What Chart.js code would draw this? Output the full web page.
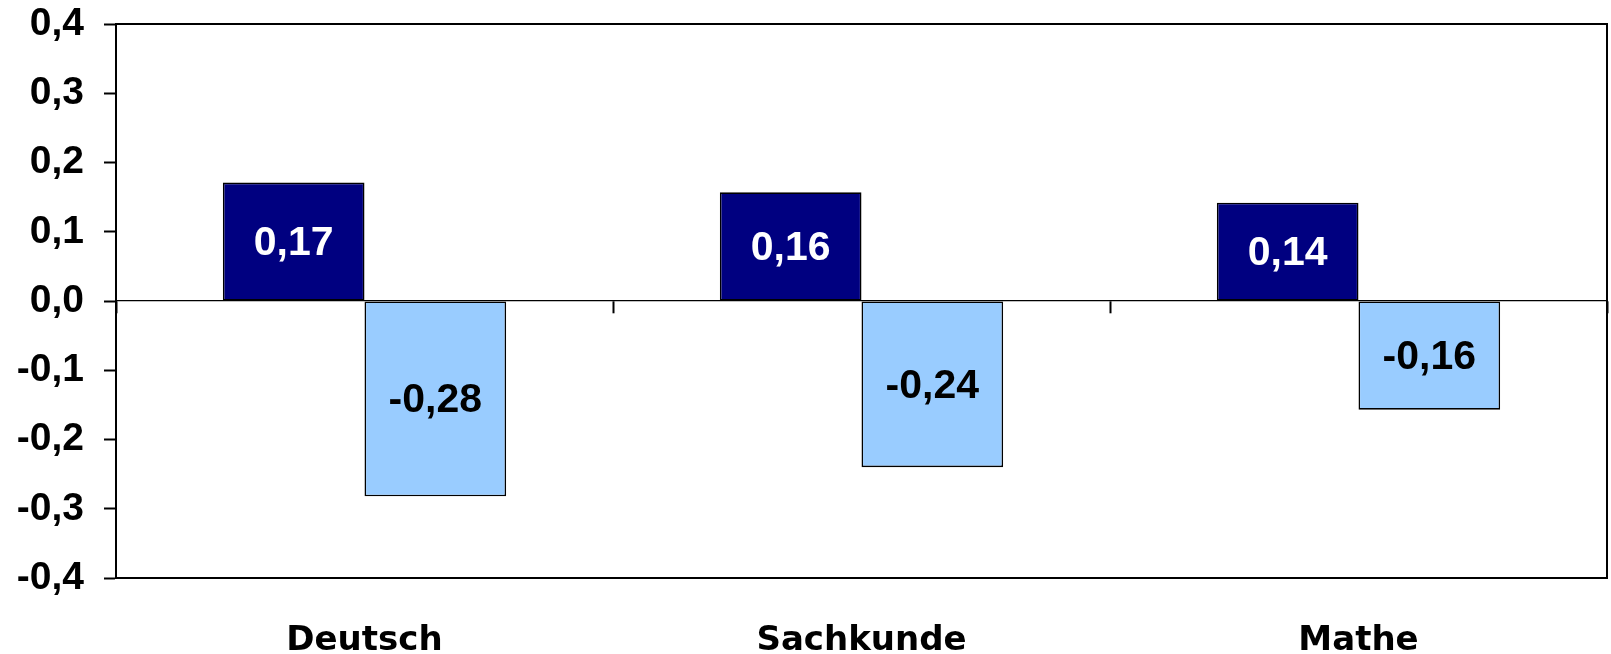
<!DOCTYPE html>
<html>
<head>
<meta charset="utf-8">
<script src="https://cdn.jsdelivr.net/npm/chart.js@4/dist/chart.umd.min.js"></script>
<style>
    html, body { margin: 0; padding: 0; background: #fff; }
    #wrap { width: 1611px; height: 654px; position: relative; }
</style>
</head>
<body>
<div id="wrap"><canvas id="effectChart"></canvas></div>
<script>
const categories = ['Deutsch', 'Sachkunde', 'Mathe'];
const upperValues = [0.171, 0.157, 0.142];
const lowerValues = [-0.282, -0.240, -0.157];
const yMin = -0.4;
const yMax = 0.4;
const yStep = 0.1;

const fontFamily = "'Liberation Sans', Arial, sans-serif";
const wideFamily = "'DejaVu Sans', 'Liberation Sans', sans-serif";

function fmt(v, digits) {
    if (Math.abs(v) < 1e-9) v = 0;
    return v.toFixed(digits).replace('.', ',');
}

// frame around the plot area
const framePlugin = {
    id: 'frame',
    afterDraw(chart) {
        const a = chart.chartArea;
        const ctx = chart.ctx;
        ctx.save();
        ctx.strokeStyle = '#000';
        ctx.lineWidth = 2;
        ctx.strokeRect(a.left, a.top, a.right - a.left, a.bottom - a.top);
        ctx.restore();
    }
};

// value labels in the middle of each bar
const barLabels = {
    id: 'barLabels',
    afterDatasetsDraw(chart) {
        const ctx = chart.ctx;
        ctx.save();
        ctx.font = 'bold 41px ' + fontFamily;
        ctx.textAlign = 'center';
        ctx.textBaseline = 'middle';
        chart.data.datasets.forEach((ds, i) => {
            const meta = chart.getDatasetMeta(i);
            ctx.fillStyle = ds.labelColor;
            meta.data.forEach((bar, j) => {
                ctx.fillText(fmt(ds.data[j], 2), bar.x, (bar.y + bar.base) / 2 + 2);
            });
        });
        ctx.restore();
    }
};

new Chart(document.getElementById('effectChart').getContext('2d'), {
    type: 'bar',
    data: {
        labels: categories,
        datasets: [{
            data: upperValues,
            backgroundColor: '#000080',
            borderColor: '#000',
            borderWidth: 1.6,
            borderSkipped: false,
            labelColor: '#fff',
            xAxisID: 'x'
        }, {
            data: lowerValues,
            backgroundColor: '#99ccff',
            borderColor: '#000',
            borderWidth: 1.6,
            borderSkipped: false,
            labelColor: '#000',
            xAxisID: 'x'
        }]
    },
    options: {
        responsive: true,
        maintainAspectRatio: false,
        animation: false,
        layout: { padding: { top: 24, right: 4, left: 0, bottom: 0 } },
        plugins: {
            legend: { display: false },
            tooltip: { enabled: false }
        },
        datasets: {
            bar: { categoryPercentage: 0.57, barPercentage: 1 }
        },
        scales: {
            x: {
                position: 'bottom',
                grid: { display: false, drawTicks: false },
                border: { display: false },
                ticks: {
                    color: '#000',
                    padding: 43,
                    font: { family: wideFamily, size: 34, weight: 'bold' }
                },
                afterFit: s => { s.height = 76; s.paddingLeft = 0; s.paddingRight = 0; }
            },
            zeroAxis: {
                type: 'category',
                axis: 'x',
                position: { y: 0 },
                grid: {
                    offset: true,
                    drawOnChartArea: false,
                    tickLength: 12,
                    tickColor: '#000',
                    tickWidth: 2
                },
                border: { display: true, color: '#000', width: 1.3 },
                ticks: { display: false }
            },
            y: {
                min: yMin,
                max: yMax,
                grid: {
                    drawOnChartArea: false,
                    tickLength: 12,
                    tickColor: '#000',
                    tickWidth: 2
                },
                border: { display: true, color: '#000', width: 2 },
                ticks: {
                    stepSize: yStep,
                    color: '#000',
                    padding: 20,
                    font: { family: fontFamily, size: 39, weight: 'bold' },
                    callback: v => fmt(v, 1)
                },
                afterFit: s => { s.width = 116; s.paddingTop = 0; s.paddingBottom = 0; }
            }
        }
    },
    plugins: [framePlugin, barLabels]
});
</script>
</body>
</html>
